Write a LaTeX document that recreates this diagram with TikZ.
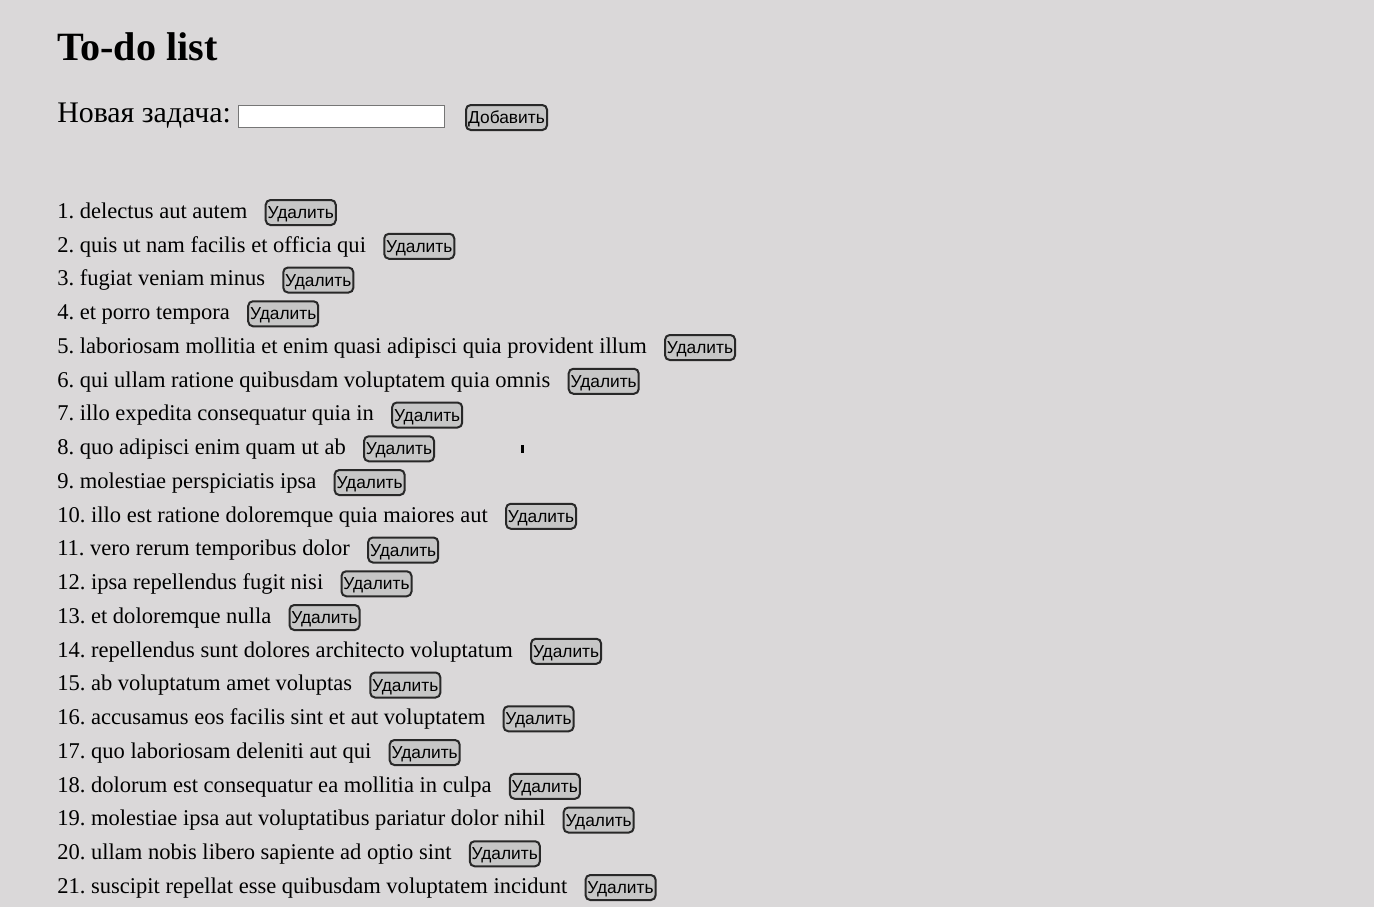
\documentclass[tikz,border=0pt]{standalone}
\usepackage{fontspec}
\setmainfont{Liberation Serif}
\newfontfamily\btnfont{Liberation Sans}
\definecolor{bg}{RGB}{218,216,217}
\definecolor{btnfill}{RGB}{198,198,198}
\definecolor{btnedge}{RGB}{40,40,40}
\definecolor{inputedge}{RGB}{118,118,118}
\frenchspacing
\begin{document}
\begin{tikzpicture}[x=0.75pt,y=-0.75pt,
  titletext/.style={anchor=base west, inner sep=0pt, font=\bfseries\fontsize{30.1}{33}\selectfont},
  labeltext/.style={anchor=base west, inner sep=0pt, font=\fontsize{22.4}{26}\selectfont},
  itemtext/.style={anchor=base west, inner sep=0pt, font=\fontsize{16.9}{19}\selectfont},
  btn/.style={draw=btnedge, line width=1.5pt, fill=btnfill, rounded corners=3.5pt,
    font=\btnfont\fontsize{13}{15}\selectfont, inner xsep=1pt, inner ysep=0pt,
    text height=9.3pt, text depth=0pt,
    minimum height=18.75pt, minimum width=52.5pt},
  inputbox/.style={draw=inputedge, fill=white, line width=0.75pt, minimum width=154.5pt, minimum height=16.5pt, inner sep=0pt}]
\fill[bg] (0,0) rectangle (1374,907);
\useasboundingbox (0,0) rectangle (1374,907);
\node[titletext] (title) at (57,60.5) {To-do list};
\node[labeltext] (label) at (57,122.5) {Новая задача:};
\node[inputbox] (input) at (341.5,116.5) {};
\node[btn, minimum width=60.75pt] (add) at (506.5,117.5) {Добавить};
\foreach \t [count=\i] in {delectus aut autem,
  quis ut nam facilis et officia qui,
  fugiat veniam minus,
  et porro tempora,
  laboriosam mollitia et enim quasi adipisci quia provident illum,
  qui ullam ratione quibusdam voluptatem quia omnis,
  illo expedita consequatur quia in,
  quo adipisci enim quam ut ab,
  molestiae perspiciatis ipsa,
  illo est ratione doloremque quia maiores aut,
  vero rerum temporibus dolor,
  ipsa repellendus fugit nisi,
  et doloremque nulla,
  repellendus sunt dolores architecto voluptatum,
  ab voluptatum amet voluptas,
  accusamus eos facilis sint et aut voluptatem,
  quo laboriosam deleniti aut qui,
  dolorum est consequatur ea mollitia in culpa,
  molestiae ipsa aut voluptatibus pariatur dolor nihil,
  ullam nobis libero sapiente ad optio sint,
  suscipit repellat esse quibusdam voluptatem incidunt} {
  \node[itemtext] (item\i) at (57,{218.3+(\i-1)*33.75}) {\i. \t};
  \node[btn, anchor=west] (btn\i) at ([xshift=12.75pt,yshift=4.35pt]item\i.base east) {Удалить};
}
\fill[black] (521,445) rectangle (524,453);
\end{tikzpicture}
\end{document}
